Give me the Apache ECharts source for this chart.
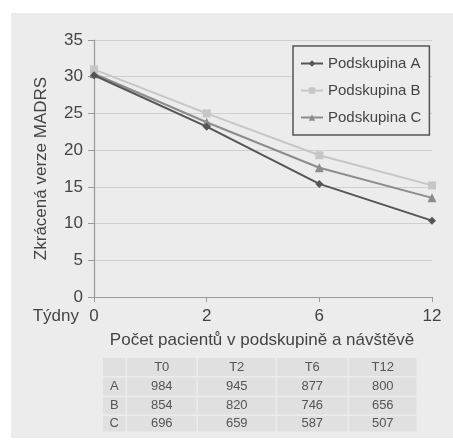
<!DOCTYPE html>
<html>
<head>
<meta charset="utf-8">
<script src="https://cdn.jsdelivr.net/npm/echarts@6/dist/echarts.min.js"></script>
<style>
  html, body { margin: 0; padding: 0; background: #ffffff; }
  #chart { width: 453px; height: 441px; }
</style>
</head>
<body>
<div id="chart"></div>
<script>
// Visit weeks (x axis) and shortened MADRS scores per subgroup
const weeks = ['0', '2', '6', '12'];
const seriesNames = ['Podskupina A', 'Podskupina B', 'Podskupina C'];
const scoresA = [30.2, 23.2, 15.4, 10.4];
const scoresB = [31.0, 25.0, 19.3, 15.2];
const scoresC = [30.4, 23.8, 17.6, 13.5];
const yTicks = [0, 5, 10, 15, 20, 25, 30, 35];

// Patient counts per subgroup and visit
const visitLabels = ['T0', 'T2', 'T6', 'T12'];
const groupLabels = ['A', 'B', 'C'];
const countsA = [984, 945, 877, 800];
const countsB = [854, 820, 746, 656];
const countsC = [696, 659, 587, 507];

const FONT = '"Liberation Sans", Arial, Helvetica, sans-serif';
const colors = ['#555555', '#c6c6c6', '#8c8c8c'];
const symbols = ['diamond', 'rect', 'triangle'];
const symbolSizes = [8, 8, 9];
const allScores = [scoresA, scoresB, scoresC];
const allCounts = [countsA, countsB, countsC];

const chart = echarts.init(document.getElementById('chart'), null, { renderer: 'canvas' });

// Table geometry
const colX = [103, 127, 198, 277, 349, 418];
const rowY = [358, 377.5, 397, 416, 433];
const tableEls = [];
for (let r = 0; r < rowY.length - 1; r++) {
  for (let c = 0; c < colX.length - 1; c++) {
    tableEls.push({
      type: 'rect', z: -5,
      shape: { x: colX[c], y: rowY[r], width: colX[c + 1] - colX[c] - 1.5, height: rowY[r + 1] - rowY[r] - 1.5 },
      style: { fill: '#e0e0e0' }
    });
    let txt = '';
    if (r === 0 && c > 0) txt = visitLabels[c - 1];
    else if (r > 0 && c === 0) txt = groupLabels[r - 1];
    else if (r > 0 && c > 0) txt = String(allCounts[r - 1][c - 1]);
    if (txt) {
      tableEls.push({
        type: 'text', z: 10,
        x: (colX[c] + colX[c + 1] - 1.5) / 2,
        y: (rowY[r] + rowY[r + 1] - 1.5) / 2,
        style: { text: txt, fill: '#555555', font: '13px ' + FONT, align: 'center', verticalAlign: 'middle' }
      });
    }
  }
}

chart.setOption({
  animation: false,
  backgroundColor: '#ffffff',
  textStyle: { fontFamily: FONT },
  graphic: [
    { type: 'rect', z: -10, shape: { x: 11, y: 13, width: 442, height: 425 }, style: { fill: '#ececec' } },
    {
      type: 'text', z: 10, x: 79, y: 316,
      style: { text: 'Týdny', fill: '#444444', font: '17px ' + FONT, align: 'right', verticalAlign: 'middle' }
    },
    {
      type: 'text', z: 10, x: 262, y: 340,
      style: { text: 'Počet pacientů v podskupině a návštěvě', fill: '#444444', font: '17px ' + FONT, align: 'center', verticalAlign: 'middle' }
    }
  ].concat(tableEls),
  grid: { left: 94, right: 21, top: 40, bottom: 144, containLabel: false },
  legend: {
    orient: 'vertical',
    left: 293,
    top: 46,
    width: 139,
    padding: [10, 8, 10, 7],
    itemGap: 12,
    itemWidth: 22,
    itemHeight: 8,
    borderColor: '#555555',
    borderWidth: 1.5,
    backgroundColor: '#ececec',
    textStyle: { fontSize: 15, color: '#444444', fontFamily: FONT, padding: [0, 0, 0, 0] },
    data: seriesNames
  },
  xAxis: {
    type: 'category',
    data: weeks,
    boundaryGap: false,
    axisLine: { lineStyle: { color: '#9a9a9a', width: 1.2 } },
    axisTick: { show: true, alignWithLabel: true, length: 5, lineStyle: { color: '#9a9a9a' } },
    axisLabel: { color: '#444444', fontSize: 17, margin: 11 },
    splitLine: { show: false }
  },
  yAxis: {
    type: 'value',
    min: yTicks[0],
    max: yTicks[yTicks.length - 1],
    interval: 5,
    name: 'Zkrácená verze MADRS',
    nameLocation: 'middle',
    nameGap: 44,
    nameTextStyle: { color: '#444444', fontSize: 17 },
    axisLine: { show: true, lineStyle: { color: '#9a9a9a', width: 1.2 } },
    axisTick: { show: true, length: 6, lineStyle: { color: '#9a9a9a' } },
    axisLabel: { color: '#444444', fontSize: 17, margin: 11 },
    splitLine: { show: true, lineStyle: { color: '#cfcfcf', width: 1 } }
  },
  series: seriesNames.map((name, i) => ({
    name: name,
    type: 'line',
    data: allScores[i],
    symbol: symbols[i],
    symbolSize: symbolSizes[i],
    showAllSymbol: true,
    z: 5 - i,
    lineStyle: { color: colors[i], width: 2 },
    itemStyle: { color: colors[i] }
  }))
});
</script>
</body>
</html>
